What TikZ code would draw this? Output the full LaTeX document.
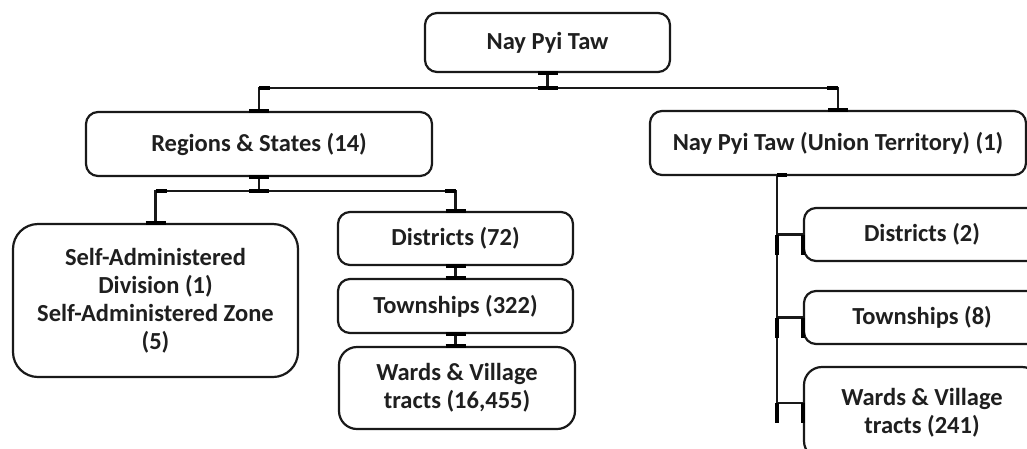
\documentclass[tikz,border=0pt]{standalone}
\usepackage{fontspec}
\setmainfont{Carlito}
\begin{document}
\begin{tikzpicture}[x=1pt,y=-1pt,
  box/.style={draw=black!90, line width=2.2pt, rounded corners=12pt, align=center,
    font=\bfseries\fontsize{24.5}{28}\selectfont, text=black!88, inner sep=0pt},
  conn/.style={line width=2.2pt, draw=black!90},
  barmark/.style={line width=4pt, draw=black}
]
\useasboundingbox[fill=white] (0,0) rectangle (1027,448);

\node[box, minimum width=245pt, minimum height=59pt] (top) at (547.5,42.5) {Nay Pyi Taw};
\node[box, minimum width=346pt, minimum height=64pt] (rs) at (259,144) {Regions \& States (14)};
\node[box, minimum width=376pt, minimum height=64pt] (ut) at (838,143) {Nay Pyi Taw (Union Territory) (1)};
\node[box, rounded corners=25pt, minimum width=285pt, minimum height=153pt] (sad) at (155.5,300.5)
  {Self-Administered\\Division (1)\\Self-Administered Zone\\(5)};
\node[box, minimum width=235pt, minimum height=53pt] (d72) at (455.5,238.5) {Districts (72)};
\node[box, minimum width=235pt, minimum height=54pt] (t322) at (455.5,306) {Townships (322)};
\node[box, rounded corners=18pt, minimum width=236pt, minimum height=82pt] (w16) at (457,388) {Wards \& Village\\tracts (16,455)};
\node[box, minimum width=236pt, minimum height=53pt] (d2) at (922,234.5) {Districts (2)};
\node[box, minimum width=236pt, minimum height=53pt] (t8) at (922,317.5) {Townships (8)};
\node[box, rounded corners=18pt, minimum width=236pt, minimum height=92pt] (w241) at (922,413) {Wards \& Village\\tracts (241)};

% top level
\coordinate (j1) at (547.5,88);
\coordinate (c1) at (rs.north |- j1);
\coordinate (c2) at (ut.north |- j1);
\draw[conn] (top.south) -- (j1);
\draw[conn] (j1) -| (rs.north);
\draw[conn] (j1) -| (ut.north);
\draw[barmark] ([xshift=-10pt]top.south) -- ([xshift=10pt]top.south);
\draw[barmark] ([xshift=-10pt]j1) -- ([xshift=10pt]j1);
\draw[barmark] ([xshift=-10pt]rs.north) -- ([xshift=10pt]rs.north);
\draw[barmark] ([xshift=-10pt]ut.north) -- ([xshift=10pt]ut.north);
\draw[barmark] (c1) -- ([xshift=11pt]c1);
\draw[barmark] (c2) -- ([xshift=-11pt]c2);

% regions & states
\coordinate (j2) at (259,191);
\coordinate (c3) at (sad.north |- j2);
\coordinate (c4) at (d72.north |- j2);
\draw[conn] (rs.south) -- (j2);
\draw[conn] (j2) -| (sad.north);
\draw[conn] (j2) -| (d72.north);
\draw[barmark] ([xshift=-10pt]rs.south) -- ([xshift=10pt]rs.south);
\draw[barmark] ([xshift=-10pt]j2) -- ([xshift=10pt]j2);
\draw[barmark] ([xshift=-10pt]sad.north) -- ([xshift=10pt]sad.north);
\draw[barmark] ([xshift=-10pt]d72.north) -- ([xshift=10pt]d72.north);
\draw[barmark] (c3) -- ([xshift=11pt]c3);
\draw[barmark] (c4) -- ([xshift=-11pt]c4);

% left chain
\coordinate (w16n) at (t322.south |- w16.north);
\draw[conn] (d72.south) -- (t322.north);
\draw[conn] (t322.south) -- (w16n);
\draw[barmark] ([xshift=-10pt]d72.south) -- ([xshift=10pt]d72.south);
\draw[barmark] ([xshift=-10pt]t322.north) -- ([xshift=10pt]t322.north);
\draw[barmark] ([xshift=-10pt]t322.south) -- ([xshift=10pt]t322.south);
\draw[barmark] ([xshift=-10pt]w16n) -- ([xshift=10pt]w16n);

% union territory
\coordinate (utb) at (777,175);
\coordinate (tb) at (777,403);
\coordinate (b1) at (utb |- d2.west);
\coordinate (b2) at (utb |- t8.west);
\coordinate (b3) at (tb -| w241.west);
\draw[conn] (utb) -- (tb);
\draw[barmark] (utb) -- ([xshift=10pt]utb);
\draw[conn] (b1) -- (d2.west);
\draw[conn] (b2) -- (t8.west);
\draw[conn] (tb) -- (b3);
\draw[barmark] (b1) -- ([yshift=-20pt]b1);
\draw[barmark] (d2.west) -- ([yshift=-20pt]d2.west);
\draw[barmark] (b2) -- ([yshift=-20pt]b2);
\draw[barmark] (t8.west) -- ([yshift=-20pt]t8.west);
\draw[barmark] (tb) -- ([yshift=-20pt]tb);
\draw[barmark] (b3) -- ([yshift=-20pt]b3);
\end{tikzpicture}
\end{document}
